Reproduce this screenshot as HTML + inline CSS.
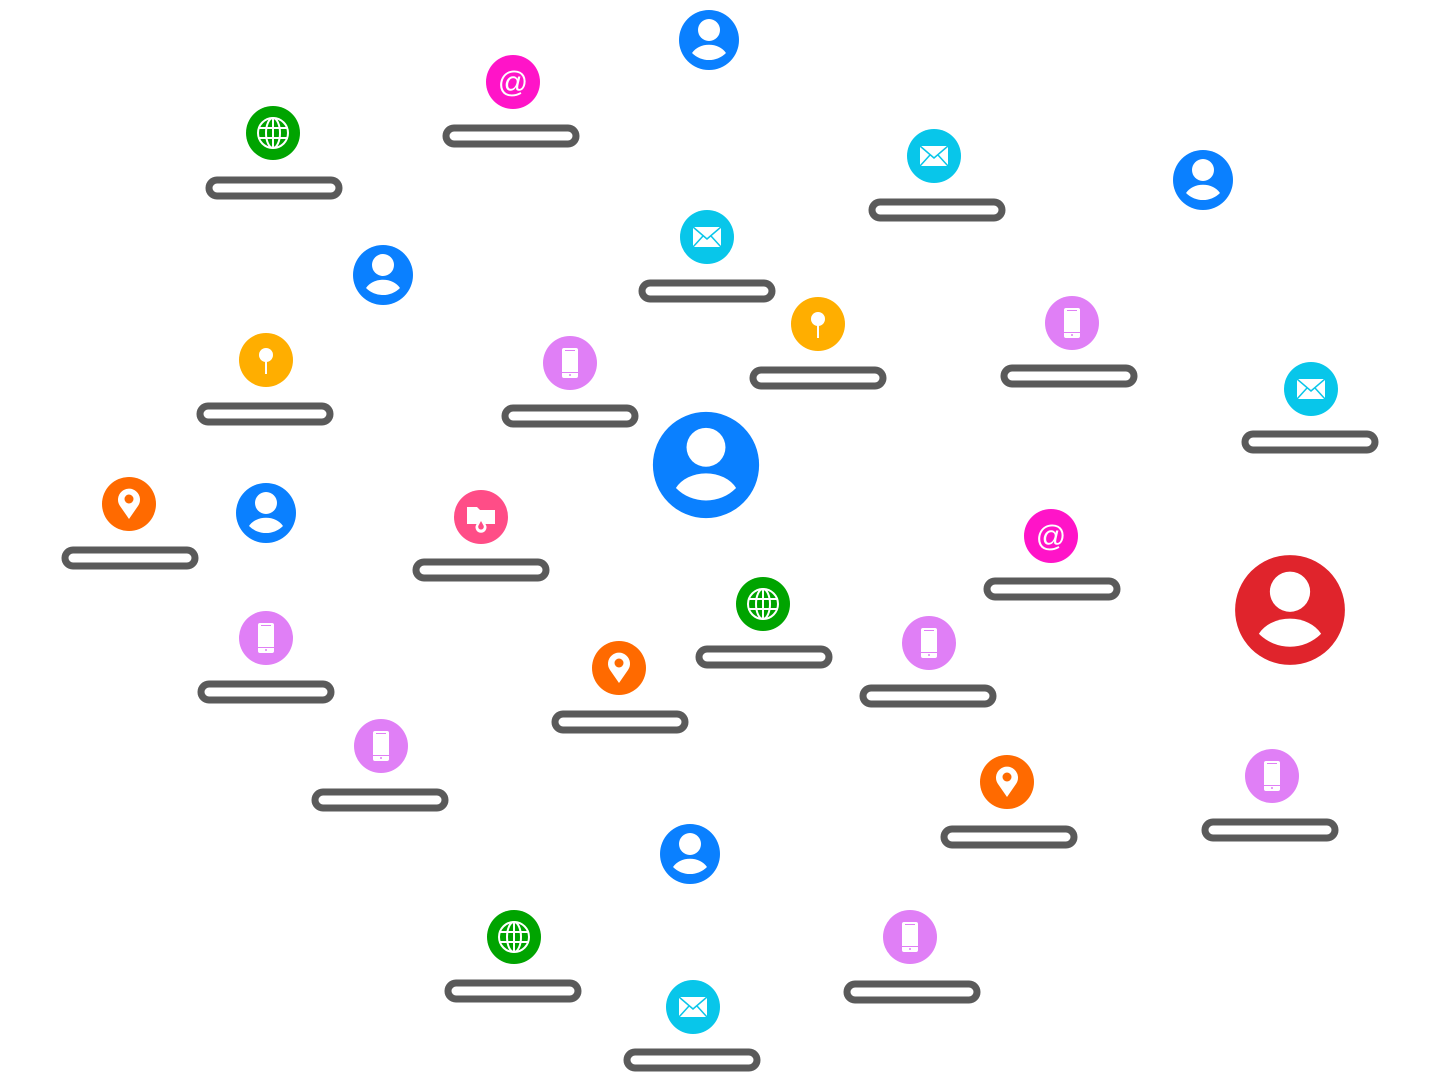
<!DOCTYPE html>
<html><head><meta charset="utf-8"><style>html,body{margin:0;padding:0;background:#fff}svg{display:block}</style></head>
<body>
<svg width="1440" height="1080" viewBox="0 0 1440 1080" xmlns="http://www.w3.org/2000/svg">
<defs>
<g id="user"><circle r="30" fill="#0a80ff"/><circle cy="-10" r="11" fill="#fff"/><path d="M-17,13 A19,15 0 0 1 17,13 A24,24 0 0 1 -17,13Z" fill="#fff"/></g>
<g id="at"><circle r="27" fill="#ff14c8"/><text y="10" text-anchor="middle" font-family="Liberation Sans, sans-serif" font-size="30" fill="#fff">@</text></g>
<g id="globe"><circle r="27" fill="#00a400"/><g fill="none" stroke="#fff" stroke-width="2"><circle r="15"/><ellipse rx="7" ry="15"/><line x1="0" y1="-15" x2="0" y2="15"/><line x1="-15" y1="-5" x2="15" y2="-5"/><line x1="-15" y1="5" x2="15" y2="5"/></g></g>
<g id="mail"><circle r="27" fill="#08c6ea"/><rect x="-14" y="-10" width="28" height="20" fill="#fff"/><path d="M-14,-10 L0,2 L14,-10 M-14,10 L-4,-1 M14,10 L4,-1" fill="none" stroke="#08c6ea" stroke-width="1.5"/></g>
<g id="pin"><circle r="27" fill="#ffae00"/><circle cy="-5" r="7" fill="#fff"/><rect x="-1" y="-3" width="2" height="17" fill="#fff"/></g>
<g id="phone"><circle r="27" fill="#e07ff6"/><rect x="-8" y="-15" width="16" height="30" rx="2" fill="#fff"/><rect x="-5" y="-13" width="10" height="1" fill="#e07ff6"/><rect x="-8" y="9" width="16" height="1" fill="#e07ff6"/><circle cy="12" r="1" fill="#e07ff6"/></g>
<g id="loc"><circle r="27" fill="#ff6a00"/><path d="M0,15 L-9,2 A11,11 0 1 1 9,2 Z" fill="#fff"/><circle cy="-5" r="4.5" fill="#ff6a00"/></g>
<g id="folder"><circle r="27" fill="#ff4d87"/><path d="M-14,-10 h10 l3,3 h15 v14 h-28z" fill="#fff"/><path d="M0,0 L-5,8 A5.5,5.5 0 1 0 5,8 Z" fill="#fff"/><path d="M0,4 L-2.5,8.5 A2.8,2.8 0 1 0 2.5,8.5 Z" fill="#ff4d87"/></g>
<rect id="bar" x="-65" y="-8" width="130" height="16" rx="8" fill="#fff" stroke="#5a5a5a" stroke-width="7"/>
</defs>
<use href="#user" x="709" y="40"/>
<use href="#at" x="513" y="82"/><use href="#bar" x="511" y="136"/>
<use href="#globe" x="273" y="133"/><use href="#bar" x="274" y="188"/>
<use href="#mail" x="934" y="156"/><use href="#bar" x="937" y="210"/>
<use href="#user" x="1203" y="180"/>
<use href="#mail" x="707" y="237"/><use href="#bar" x="707" y="291"/>
<use href="#user" x="383" y="275"/>
<use href="#pin" x="266" y="360"/><use href="#bar" x="265" y="414"/>
<use href="#phone" x="570" y="363"/><use href="#bar" x="570" y="416"/>
<use href="#pin" x="818" y="324"/><use href="#bar" x="818" y="378"/>
<use href="#phone" x="1072" y="323"/><use href="#bar" x="1069" y="376"/>
<use href="#mail" x="1311" y="389"/><use href="#bar" x="1310" y="442"/>
<g transform="translate(706,465) scale(1.77)"><use href="#user"/></g>
<use href="#loc" x="129" y="504"/><use href="#bar" x="130" y="558"/>
<use href="#user" x="266" y="513"/>
<use href="#folder" x="481" y="517"/><use href="#bar" x="481" y="570"/>
<use href="#at" x="1051" y="536"/><use href="#bar" x="1052" y="589"/>
<g transform="translate(1290,610) scale(1.83)"><circle r="30" fill="#e0242c"/><circle cy="-10" r="11" fill="#fff"/><path d="M-17,13 A19,15 0 0 1 17,13 A24,24 0 0 1 -17,13Z" fill="#fff"/></g>
<use href="#globe" x="763" y="604"/><use href="#bar" x="764" y="657"/>
<use href="#phone" x="266" y="638"/><use href="#bar" x="266" y="692"/>
<use href="#loc" x="619" y="668"/><use href="#bar" x="620" y="722"/>
<use href="#phone" x="929" y="643"/><use href="#bar" x="928" y="696"/>
<use href="#phone" x="381" y="746"/><use href="#bar" x="380" y="800"/>
<use href="#loc" x="1007" y="782"/><use href="#bar" x="1009" y="837"/>
<use href="#phone" x="1272" y="776"/><use href="#bar" x="1270" y="830"/>
<use href="#user" x="690" y="854"/>
<use href="#globe" x="514" y="937"/><use href="#bar" x="513" y="991"/>
<use href="#phone" x="910" y="937"/><use href="#bar" x="912" y="992"/>
<use href="#mail" x="693" y="1007"/><use href="#bar" x="692" y="1060"/>
</svg>
</body></html>
